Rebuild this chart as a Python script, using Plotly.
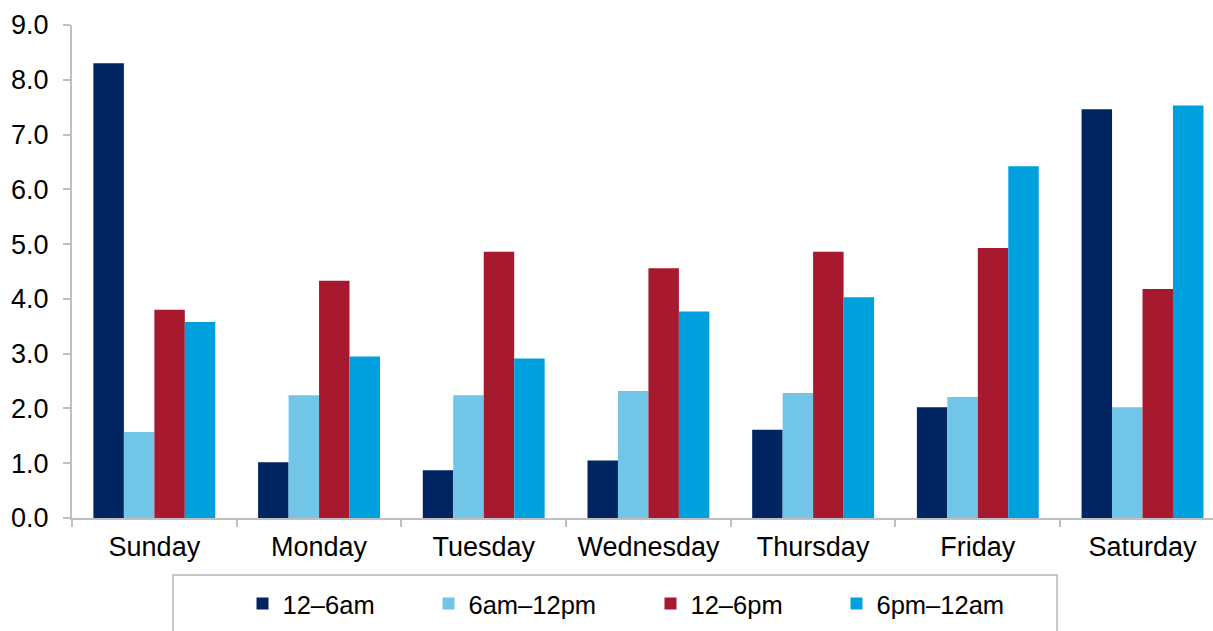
import plotly.graph_objects as go

days = ["Sunday", "Monday", "Tuesday", "Wednesday", "Thursday", "Friday", "Saturday"]
series_names = ["12\u20136am", "6am\u201312pm", "12\u20136pm", "6pm\u201312am"]
v_12_6am = [8.30, 1.02, 0.87, 1.05, 1.61, 2.02, 7.46]
v_6am_12pm = [1.57, 2.24, 2.24, 2.32, 2.28, 2.21, 2.02]
v_12_6pm = [3.80, 4.33, 4.86, 4.56, 4.86, 4.93, 4.18]
v_6pm_12am = [3.58, 2.95, 2.91, 3.77, 4.03, 6.42, 7.53]
y_ticks = [0, 1, 2, 3, 4, 5, 6, 7, 8, 9]

colors = ["#002561", "#71C5E7", "#A6192E", "#00A0DF"]
values = [v_12_6am, v_6am_12pm, v_12_6pm, v_6pm_12am]
legend_ids = ["legend", "legend2", "legend3", "legend4"]

FONT = "Liberation Sans, Arial, sans-serif"
W, H = 1213, 631
L, R, T, B = 72, 0, 25, 113
pw = W - L - R
ph = H - T - B

fig = go.Figure()
for name, vals, col, lid in zip(series_names, values, colors, legend_ids):
    fig.add_trace(go.Bar(x=days, y=vals, name=name, marker=dict(color=col, line=dict(width=0)),
                         legend=lid))

# legend placement (pixel -> paper)
marker_centers = [257.5, 443.5, 665.5, 851.5]
legend_y_px = 604
def px_to_paper_x(px):
    return (px - L) / pw
def px_to_paper_y(py):
    return (H - B - py) / ph

legend_common = dict(font=dict(family=FONT, size=25.5, color="#000000"), bgcolor="rgba(0,0,0,0)",
                     borderwidth=0, orientation="h", xanchor="left", yanchor="middle",
                     y=px_to_paper_y(legend_y_px))
layout_legends = {}
for lid, mc in zip(legend_ids, marker_centers):
    d = dict(legend_common)
    d["x"] = px_to_paper_x(mc - 15)
    layout_legends[lid] = d

fig.update_layout(
    width=W, height=H,
    margin=dict(l=L, r=R, t=T, b=B, pad=0),
    paper_bgcolor="white", plot_bgcolor="white",
    barmode="group", bargap=0.26, bargroupgap=0,
    font=dict(family=FONT, size=27, color="#000000"),
    **layout_legends,
    xaxis=dict(type="category", range=[-0.5, 6.428], showgrid=False, showline=True,
               linecolor="#BFBFBF", linewidth=2, ticks="outside", tickson="boundaries",
               ticklen=7, tickwidth=2, tickcolor="#BFBFBF", ticklabelstandoff=4,
               tickfont=dict(family=FONT, size=27, color="#000000")),
    yaxis=dict(range=[0, 9], tickvals=y_ticks, tickformat=".1f", showgrid=False, zeroline=False,
               showline=True, linecolor="#BFBFBF", linewidth=2, ticks="outside", ticklen=7,
               tickwidth=2, tickcolor="#BFBFBF", ticklabelstandoff=9,
               tickfont=dict(family=FONT, size=27, color="#000000")),
    showlegend=True,
)

# legend frame (open at the bottom, cropped by the canvas)
fig.add_shape(type="rect", xref="paper", yref="paper",
              x0=px_to_paper_x(173), x1=px_to_paper_x(1057),
              y0=px_to_paper_y(660), y1=px_to_paper_y(575),
              line=dict(color="#C8C8C8", width=2), fillcolor="rgba(0,0,0,0)", layer="above")

fig.write_html("out.html")
